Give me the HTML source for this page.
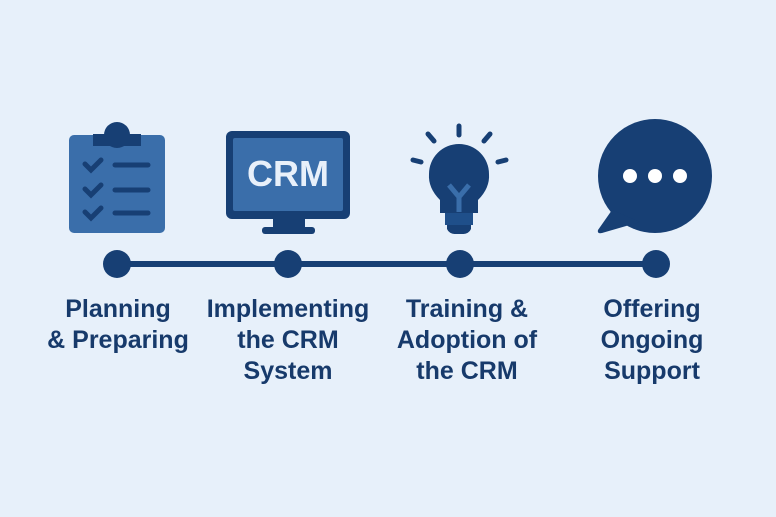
<!DOCTYPE html>
<html><head><style>
body{margin:0;width:776px;height:517px;background:#e7f0fa;position:relative;overflow:hidden;font-family:"Liberation Sans",sans-serif}
.l{position:absolute;width:200px;text-align:center;font-weight:bold;font-size:25px;line-height:31px;color:#173a6b;top:294px}
</style></head><body>
<svg width="776" height="517" style="position:absolute;left:0;top:0">
<rect x="69" y="135" width="96" height="98" rx="5" fill="#3a6eaa"/>
<circle cx="117" cy="135" r="13" fill="#173f74"/>
<rect x="93" y="134" width="48" height="12" fill="#173f74"/>
<g stroke="#173f74" stroke-width="5" stroke-linecap="round" fill="none">
<polyline points="85,164 91,170 101,160"/><polyline points="85,189 91,195 101,185"/><polyline points="85,212 91,218 101,208"/>
<line x1="115" y1="165" x2="148" y2="165"/><line x1="115" y1="190" x2="148" y2="190"/><line x1="115" y1="213" x2="148" y2="213"/>
</g>
<rect x="226" y="131" width="124" height="88" rx="6" fill="#173f74"/>
<rect x="233" y="138" width="110" height="73" rx="2" fill="#3a6eaa"/>
<rect x="273" y="218" width="32" height="11" fill="#173f74"/>
<rect x="262" y="227" width="53" height="7" rx="3" fill="#173f74"/>
<text x="288" y="186" text-anchor="middle" font-family="Liberation Sans" font-weight="bold" font-size="36" fill="#e8f0fa">CRM</text>
<g stroke="#173f74" stroke-width="5" stroke-linecap="round">
<line x1="459" y1="126" x2="459" y2="135"/><line x1="428" y1="134" x2="434" y2="141"/><line x1="490" y1="134" x2="484" y2="141"/>
<line x1="413" y1="160" x2="421" y2="162"/><line x1="498" y1="162" x2="506" y2="160"/>
</g>
<path d="M440,213 L440,200 Q428,188 429,174 A30,30 0 0 1 489,174 Q490,188 478,200 L478,213 Z" fill="#173f74"/>
<rect x="445" y="213" width="28" height="12" fill="#1f4f8a"/>
<path d="M447,225 h24 v4 a8,8 0 0 1 -8,5 h-8 a8,8 0 0 1 -8,-5z" fill="#173f74"/>
<polyline points="449,185 459,197 469,185" stroke="#3a6eaa" stroke-width="5" fill="none"/>
<line x1="459" y1="197" x2="459" y2="212" stroke="#3a6eaa" stroke-width="5"/>
<circle cx="655" cy="176" r="57" fill="#173f74"/>
<path d="M612,210 L598,230 Q597,234 602,233 L640,222 Z" fill="#173f74"/>
<circle cx="630" cy="176" r="7" fill="#fff"/><circle cx="655" cy="176" r="7" fill="#fff"/><circle cx="680" cy="176" r="7" fill="#fff"/>
<line x1="117" y1="264" x2="656" y2="264" stroke="#173f74" stroke-width="6"/>
<g fill="#173f74"><circle cx="117" cy="264" r="14"/><circle cx="288" cy="264" r="14"/><circle cx="460" cy="264" r="14"/><circle cx="656" cy="264" r="14"/></g>
</svg>
<div class="l" style="left:18px">Planning<br>&amp; Preparing</div>
<div class="l" style="left:188px">Implementing<br>the CRM<br>System</div>
<div class="l" style="left:367px">Training &amp;<br>Adoption of<br>the CRM</div>
<div class="l" style="left:552px">Offering<br>Ongoing<br>Support</div>
</body></html>
